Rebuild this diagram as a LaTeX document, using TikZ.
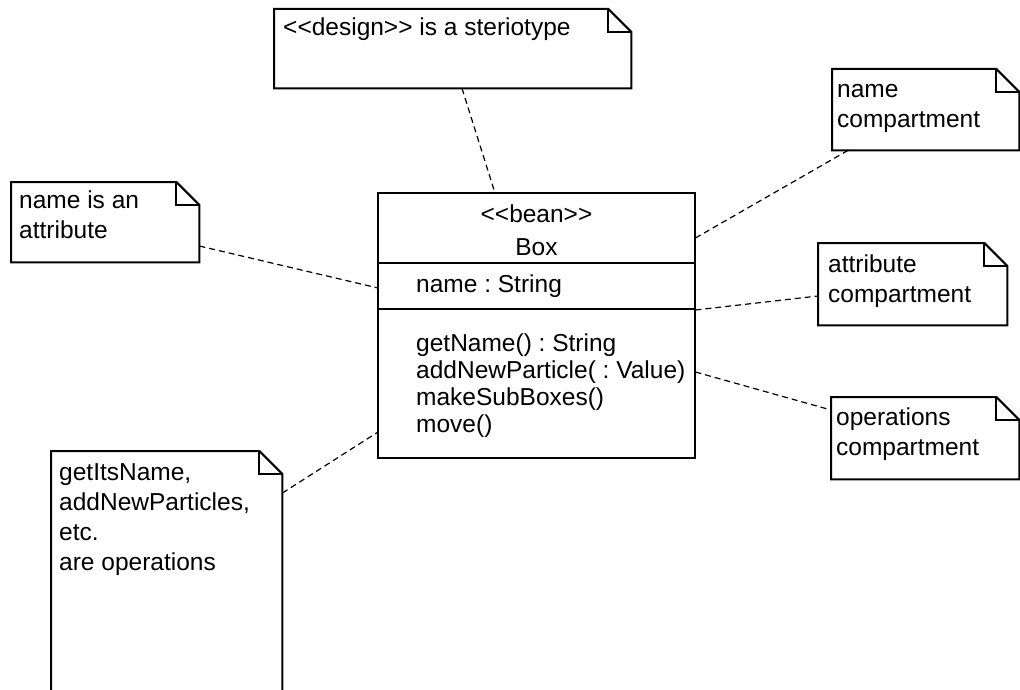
\documentclass[tikz,border=0pt]{standalone}
\usepackage{fontspec}
\setmainfont{Liberation Sans}
\frenchspacing
% guillemet-free stereotype brackets
\newcommand\stOpen{<\kern0pt<}
\newcommand\stClose{>\kern0pt>}
% outline of a UML note with a folded top-right corner
\newcommand\noteoutline[1]{%
  \draw[outline] (#1.north west) -- ([xshift=-23pt]#1.north east)
    -- ([yshift=-23pt]#1.north east) -- (#1.south east)
    -- (#1.south west) -- cycle;
  \draw[outline] ([xshift=-23pt]#1.north east) |- ([yshift=-23pt]#1.north east);
}
\begin{document}
\begin{tikzpicture}[x=1pt,y=-1pt,
  outline/.style={draw=black, line width=2pt, line join=miter},
  connector/.style={draw=black, line width=1.2pt, dash pattern=on 6pt off 4pt},
  frame/.style={rectangle, inner sep=0pt, anchor=north west, draw=none},
  txt/.style={anchor=north west, inner sep=0pt, align=left,
    font=\fontsize{24.5}{30}\selectfont},
  optxt/.style={txt, font=\fontsize{24.5}{27}\selectfont},
]
\clip (0,0) rectangle (1020,690);

% ---- class box ----
\node[frame, minimum width=317pt, minimum height=265pt] (cls) at (378,193) {};
\draw[outline] (cls.north west) rectangle (cls.south east);
\draw[outline] ([yshift=-70pt]cls.north west) -- ([yshift=-70pt]cls.north east);
\draw[outline] ([yshift=-116pt]cls.north west) -- ([yshift=-116pt]cls.north east);
\node[txt, anchor=base] (stereo) at (536.5,222) {\stOpen bean\stClose};
\node[txt, anchor=base] (clsname) at (536.5,255) {Box};
\node[txt, anchor=base west] (attr) at (416,292) {name : String};
\node[optxt] (ops) at (416,332.1) {\strut getName() : String\\addNewParticle( : Value)\\makeSubBoxes()\\move()};

% ---- notes ----
\node[frame, minimum width=357pt, minimum height=79pt] (design) at (274,9) {};
\noteoutline{design}
\node[txt] (designtxt) at (283,14) {\strut\stOpen design\stClose{} is a steriotype};

\node[frame, minimum width=187pt, minimum height=81pt] (namecomp) at (832,69) {};
\noteoutline{namecomp}
\node[txt] (namecomptxt) at (837,76) {\strut name\\compartment};

\node[frame, minimum width=188pt, minimum height=80pt] (nameattr) at (11,182) {};
\noteoutline{nameattr}
\node[txt] (nameattrtxt) at (19,187) {\strut name is an\\attribute};

\node[frame, minimum width=189pt, minimum height=82pt] (attrcomp) at (818,243) {};
\noteoutline{attrcomp}
\node[txt] (attrcomptxt) at (828,251) {\strut attribute\\compartment};

\node[frame, minimum width=188pt, minimum height=82pt] (opscomp) at (831,397) {};
\noteoutline{opscomp}
\node[txt] (opscomptxt) at (836,404) {\strut operations\\compartment};

\node[frame, minimum width=231pt, minimum height=260pt] (opsnote) at (51,451) {};
\noteoutline{opsnote}
\node[txt] (opsnotetxt) at (59,459) {\strut getItsName,\\addNewParticles,\\etc.\\are operations};

% ---- dashed anchors from notes to the class ----
\draw[connector] ([xshift=188pt]design.south west) -- ([xshift=117pt]cls.north west);
\draw[connector] ([yshift=-45pt]cls.north east) -- ([xshift=16pt]namecomp.south west);
\draw[connector] ([yshift=-64pt]nameattr.north east) -- ([yshift=-95pt]cls.north west);
\draw[connector] ([yshift=-117pt]cls.north east) -- ([yshift=-53pt]attrcomp.north west);
\draw[connector] ([yshift=-179pt]cls.north east) -- ([yshift=-13pt]opscomp.north west);
\draw[connector] ([yshift=-42pt]opsnote.north east) -- ([yshift=-239pt]cls.north west);
\end{tikzpicture}
\end{document}
